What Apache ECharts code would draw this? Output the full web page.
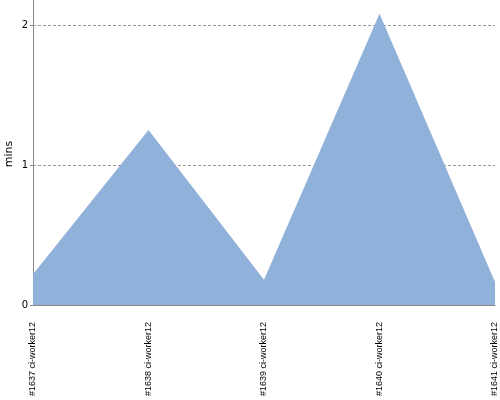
<!DOCTYPE html>
<html><head><meta charset="utf-8">
<script src="https://cdn.jsdelivr.net/npm/echarts@6/dist/echarts.min.js"></script>
<style>html,body{margin:0;padding:0;background:#fff}#c{width:500px;height:400px}</style>
</head><body><div id="c"></div>
<script>
const categories = ["#1637 ci-worker12", "#1638 ci-worker12", "#1639 ci-worker12", "#1640 ci-worker12", "#1641 ci-worker12"];
const mins = [0.22, 1.25, 0.18, 2.08, 0.165];
const yTicks = [0, 1, 2];

const chart = echarts.init(document.getElementById('c'));
const font = '"Liberation Sans Narrow", "Liberation Sans", sans-serif';
chart.setOption({
  animation: false,
  grid: { left: 33, right: 5, top: -17, bottom: 95, containLabel: false, outerBoundsMode: 'none' },
  xAxis: {
    type: 'category', data: categories, boundaryGap: false,
    axisLine: { lineStyle: { color: '#888', width: 1 } },
    axisTick: { show: false },
    axisLabel: { rotate: 90, color: '#000', fontFamily: font, fontSize: 9, margin: 17 },
    splitLine: { show: false }
  },
  yAxis: {
    type: 'value', min: 0, max: 2.3, interval: 1,
    name: 'mins', nameLocation: 'middle', nameGap: 18, nameRotate: 90, nameMoveOverlap: false,
    nameTextStyle: { color: '#000', fontFamily: 'DejaVu Sans', fontSize: 11, padding: [0, 20, 0, 0] },
    axisLine: { show: true, lineStyle: { color: '#888' } },
    axisTick: { show: true, length: 3, lineStyle: { color: '#888' } },
    axisLabel: { color: '#000', fontFamily: 'DejaVu Sans', fontSize: 10, margin: 5,
      formatter: v => yTicks.includes(v) ? String(v) : '' },
    splitLine: { show: true, lineStyle: { color: '#999', type: [3, 2], width: 1 } }
  },
  series: [{
    type: 'line', data: mins, symbol: 'none',
    lineStyle: { width: 0, color: '#8fb1da' },
    areaStyle: { color: '#8fb1da', opacity: 1 }
  }]
});
</script></body></html>
